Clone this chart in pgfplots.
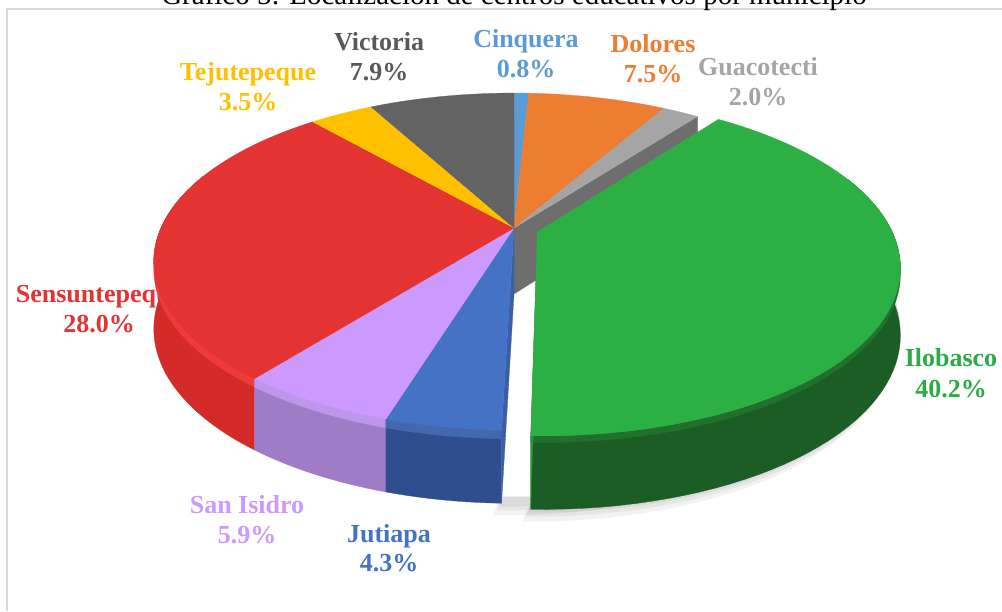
\documentclass[border=0pt]{standalone}
\usepackage{pgfplots}
\pgfplotsset{compat=1.18}
\usepackage{pgfplotstable}
\usepackage{fontspec}
\setmainfont{Liberation Serif}

\definecolor{cCin}{HTML}{5B9BD5}
\definecolor{cDol}{HTML}{ED7D31}
\definecolor{cGua}{HTML}{A5A5A5}
\definecolor{cIlo}{HTML}{2DB043}
\definecolor{cJut}{HTML}{4472C4}
\definecolor{cSan}{HTML}{CC99FF}
\definecolor{cSen}{HTML}{E33333}
\definecolor{cTej}{HTML}{FFC000}
\definecolor{cVic}{HTML}{636363}
\definecolor{wIlo}{HTML}{1C5C25}
\definecolor{hIlo}{HTML}{21712C}
\definecolor{wJut}{HTML}{2E4E8E}
\definecolor{hJut}{HTML}{4468B0}
\definecolor{wSan}{HTML}{9E7CC6}
\definecolor{hSan}{HTML}{BE96EA}
\definecolor{wSen}{HTML}{D42A2A}
\definecolor{hSen}{HTML}{EE3A3A}
\definecolor{kGua}{HTML}{6E6E6E}
\definecolor{kJut}{HTML}{3A5FA8}
\definecolor{kIlo}{HTML}{25963A}
\definecolor{tIlo}{HTML}{2BAA46}
\definecolor{tVic}{HTML}{595959}
\definecolor{frame}{HTML}{D9D9D9}

% perspective projection of a point on the pie (t: angle clockwise from top, r: radius 0..1,
% ou/ov: explode offset, d: depth below top face)
\pgfmathdeclarefunction{PX}{4}{\pgfmathparse{514+353*(#2*sin(#1)+(#3))/(1+0.199*(#2*cos(#1)+(#4)))}}
\pgfmathdeclarefunction{PY}{5}{\pgfmathparse{228-161.8*(#2*cos(#1)+(#4))/(1+0.199*(#2*cos(#1)+(#4)))+(#5)/(1+0.1*(#2*cos(#1)+(#4)))}}

\newcommand\labfont{\bfseries\fontsize{26}{30}\selectfont}
\newcommand\lab[6]{%
  \node[anchor=base,text=#6,font=\labfont,inner sep=0pt] at (#1,#2) {#4};
  \node[anchor=base,text=#6,font=\labfont,inner sep=0pt] at (#1,#3) {#5};}
\newcommand\topface[5]{%
  \fill[#3,draw=#3,line width=0.3pt,line join=round] ({PX(0,0,#4,#5)},{PY(0,0,#4,#5,0)}) --
   plot[domain=#1:#2,samples=60,variable=\t] ({PX(\t,1,#4,#5)},{PY(\t,1,#4,#5,0)}) -- cycle;}
% wall band between depths #6 and #7
\newcommand\wall[7]{%
  \fill[#3,draw=#3,line width=0.3pt,line join=round]
   plot[domain=#1:#2,samples=50,variable=\t] ({PX(\t,1,#4,#5)},{PY(\t,1,#4,#5,#6)}) --
   plot[domain=#2:#1,samples=50,variable=\t] ({PX(\t,1,#4,#5)},{PY(\t,1,#4,#5,#7)}) -- cycle;}
\newcommand\cutface[4]{%
  \fill[#2,draw=#2,line width=0.3pt,line join=round]
   ({PX(#1,0,#3,#4)},{PY(#1,0,#3,#4,0)}) -- ({PX(#1,1,#3,#4)},{PY(#1,1,#3,#4,0)}) --
   ({PX(#1,1,#3,#4)},{PY(#1,1,#3,#4,66)}) -- ({PX(#1,0,#3,#4)},{PY(#1,0,#3,#4,66)}) -- cycle;}
% soft shadow band below the outer rim
\newcommand\shadowband[6]{%
  \fill[black,opacity=0.05]
   plot[domain=#1:#2,samples=60,variable=\t] ({PX(\t,1,#3,#4)+(#5)},{PY(\t,1,#3,#4,66)+(#6)}) --
   plot[domain=#2:#1,samples=60,variable=\t] ({PX(\t,1,#3,#4)},{PY(\t,1,#3,#4,60)}) -- cycle;}

\pgfplotstableread{
name pct
Cinquera 0.8
Dolores 7.5
Guacotecti 2.0
Ilobasco 40.2
Jutiapa 4.3
SanIsidro 5.9
Sensuntepeque 28.0
Tejutepeque 3.5
Victoria 7.9
}\piedata
\newcommand\getpct[2]{\pgfplotstablegetelem{#1}{pct}\of\piedata\let#2\pgfplotsretval}
\getpct{0}\pA \getpct{1}\pB \getpct{2}\pC \getpct{3}\pD \getpct{4}\pE
\getpct{5}\pF \getpct{6}\pG \getpct{7}\pH \getpct{8}\pI
\pgfmathsetmacro\tot{\pA+\pB+\pC+\pD+\pE+\pF+\pG+\pH+\pI}
\pgfmathsetmacro\aB{360*(\pA)/\tot}
\pgfmathsetmacro\aC{\aB+360*(\pB)/\tot}
\pgfmathsetmacro\aD{\aC+360*(\pC)/\tot}
\pgfmathsetmacro\aE{\aD+360*(\pD)/\tot}
\pgfmathsetmacro\aF{\aE+360*(\pE)/\tot}
\pgfmathsetmacro\aG{\aF+360*(\pF)/\tot}
\pgfmathsetmacro\aH{\aG+360*(\pG)/\tot}
\pgfmathsetmacro\aI{\aH+360*(\pH)/\tot}
\pgfmathsetmacro\am{(\aD+\aE)/2}
\pgfmathsetmacro\ou{0.07*sin(\am)}
\pgfmathsetmacro\ov{0.07*cos(\am)}

\begin{document}%
\begin{tikzpicture}
\begin{axis}[width=1002pt,height=611pt,scale only axis,at={(0,0)},anchor=south west,
  xmin=0,xmax=1002,ymin=0,ymax=611,y dir=reverse,hide axis,clip=false]
% frame and title
\draw[frame,line width=1.2pt] (7,611) -- (7,9) -- (1002,9);
\node[anchor=base,font=\fontsize{29}{31}\selectfont,inner sep=0pt] at (514,4) {Gráfico 5: Localización de centros educativos por municipio};
% labels
\lab{526}{47}{77}{Cinquera}{0.8\%}{cCin}
\lab{653}{52}{82}{Dolores}{7.5\%}{cDol}
\lab{758}{75}{105}{Guacotecti}{2.0\%}{cGua}
\lab{951}{366}{397}{Ilobasco}{40.2\%}{tIlo}
\lab{389}{542}{571}{Jutiapa}{4.3\%}{cJut}
\lab{247}{513}{543}{San Isidro}{5.9\%}{cSan}
\lab{99}{302}{332}{Sensuntepeque}{28.0\%}{cSen}
\lab{248}{80}{110}{Tejutepeque}{3.5\%}{cTej}
\lab{379}{50}{80}{Victoria}{7.9\%}{tVic}
% soft shadow
\shadowband{80}{\aE}{0}{0}{-9}{12}
\shadowband{80}{\aE}{0}{0}{-5}{7}
\shadowband{80}{\aE}{0}{0}{-2}{3}
\shadowband{70}{\aE}{\ou}{\ov}{-9}{12}
\shadowband{70}{\aE}{\ou}{\ov}{-5}{7}
\shadowband{70}{\aE}{\ou}{\ov}{-2}{3}
% rest of the pie: walls, cut faces, top faces
\wall{\aG}{290}{wSen}{0}{0}{0}{66}
\wall{\aG}{290}{hSen}{0}{0}{0}{8}
\wall{\aF}{\aG}{wSan}{0}{0}{0}{66}
\wall{\aF}{\aG}{hSan}{0}{0}{0}{8}
\wall{\aE}{\aF}{wJut}{0}{0}{0}{66}
\wall{\aE}{\aF}{hJut}{0}{0}{0}{8}
\cutface{\aD}{kGua}{0}{0}
\cutface{\aE}{kJut}{0}{0}
\topface{0}{\aB}{cCin}{0}{0}
\topface{\aB}{\aC}{cDol}{0}{0}
\topface{\aC}{\aD}{cGua}{0}{0}
\topface{\aE}{\aF}{cJut}{0}{0}
\topface{\aF}{\aG}{cSan}{0}{0}
\topface{\aG}{\aH}{cSen}{0}{0}
\topface{\aH}{\aI}{cTej}{0}{0}
\topface{\aI}{360}{cVic}{0}{0}
% exploded slice: Ilobasco
\wall{70}{\aE}{wIlo}{\ou}{\ov}{0}{66}
\wall{70}{\aE}{hIlo}{\ou}{\ov}{0}{6}
\cutface{\aE}{kIlo}{\ou}{\ov}
\topface{\aD}{\aE}{cIlo}{\ou}{\ov}
\end{axis}
\pgfresetboundingbox
\path[use as bounding box] (current axis.south west) rectangle (current axis.north east);
\end{tikzpicture}%
\end{document}
